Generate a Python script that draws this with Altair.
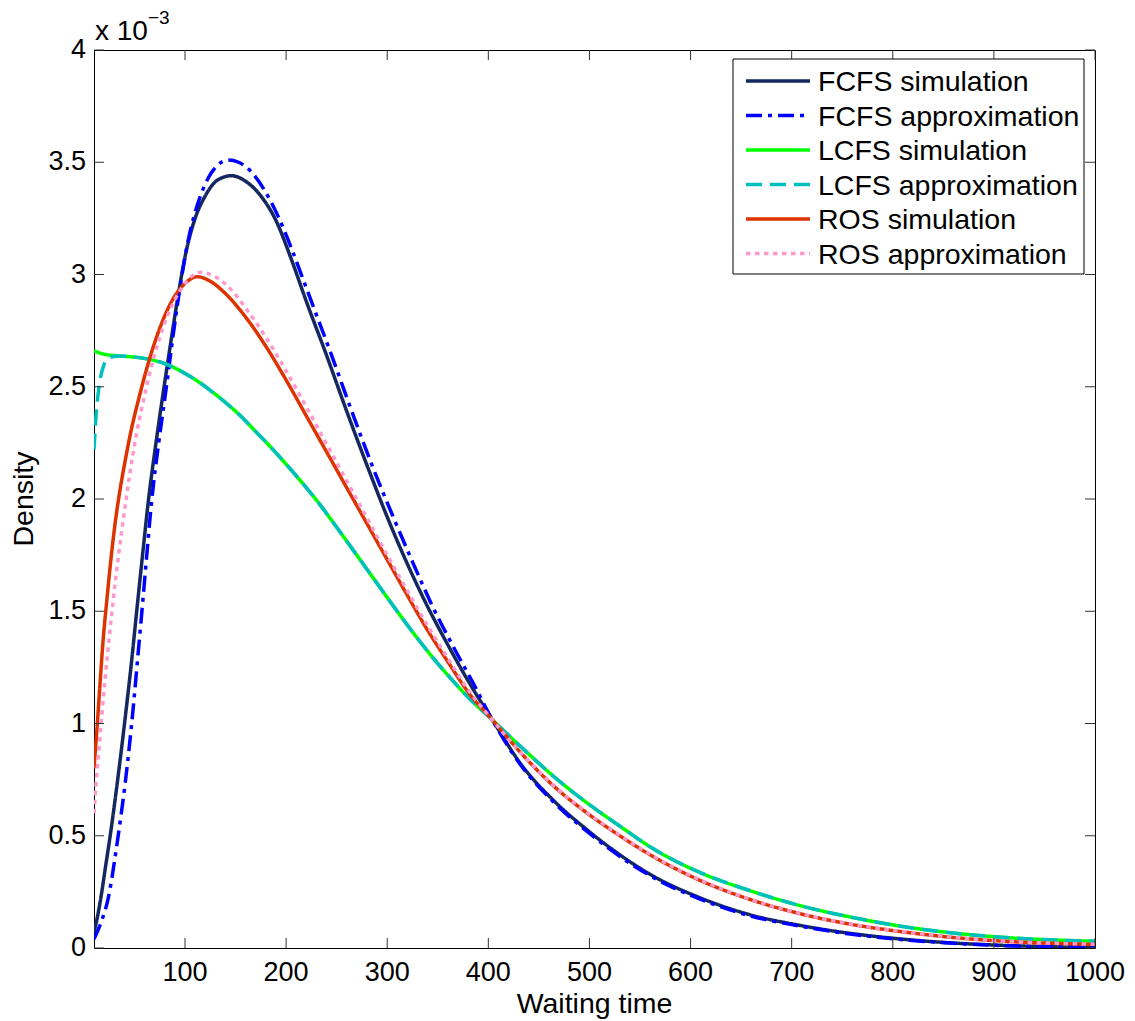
import altair as alt
import pandas as pd

# ---------------- data (density in units of 1e-3) ----------------
NAMES = ["FCFS simulation", "FCFS approximation", "LCFS simulation",
         "LCFS approximation", "ROS simulation", "ROS approximation"]

FCFS_SIM_X = [10, 13, 17, 21, 26, 32, 37, 42, 47, 52, 58, 64, 71, 78, 85, 93, 101, 110, 120, 132,
              146, 160, 175, 190, 205, 220, 240, 260, 280, 300, 320, 340, 360, 380, 404, 432,
              465, 498, 531, 564, 607, 659, 709, 758, 808, 857, 907, 1000]
FCFS_SIM_Y = [0.07, 0.13, 0.23, 0.35, 0.50, 0.70, 0.88, 1.07, 1.27, 1.49, 1.75, 2.00, 2.24, 2.46,
              2.67, 2.90, 3.10, 3.25, 3.35, 3.42, 3.44, 3.415, 3.35, 3.24, 3.07, 2.88, 2.64, 2.39,
              2.15, 1.92, 1.71, 1.52, 1.35, 1.19, 1.016, 0.82, 0.655, 0.525, 0.412, 0.318, 0.228,
              0.148, 0.100, 0.065, 0.040, 0.023, 0.012, 0.003]

FCFS_APX_X = [10, 14, 19, 24, 28, 32, 37, 41, 45, 49, 53, 57, 62, 67, 74, 81, 88, 96, 104, 113,
              123, 133, 143, 153, 165, 178, 192, 205, 215, 225, 245, 265, 285, 305, 325, 345,
              365, 385, 404, 432, 465, 498, 531, 564, 607, 659, 709, 758, 808, 857, 907, 1000]
FCFS_APX_Y = [0.04, 0.08, 0.14, 0.22, 0.32, 0.44, 0.60, 0.74, 0.90, 1.08, 1.28, 1.48, 1.74, 1.99,
              2.25, 2.48, 2.72, 2.97, 3.17, 3.32, 3.43, 3.49, 3.51, 3.50, 3.46, 3.38, 3.26, 3.12,
              3.00, 2.88, 2.64, 2.39, 2.15, 1.93, 1.72, 1.52, 1.345, 1.18, 1.016, 0.815, 0.648,
              0.518, 0.405, 0.312, 0.222, 0.143, 0.097, 0.062, 0.038, 0.022, 0.011, 0.003]

LCFS_SIM_X = [10, 20, 35, 50, 65, 80, 95, 110, 125, 140, 155, 170, 185, 200, 215, 230, 245, 260,
              275, 290, 305, 320, 335, 350, 365, 380, 404, 432, 465, 498, 531, 562, 610, 659,
              709, 758, 808, 857, 907, 1000]
LCFS_SIM_Y = [2.66, 2.645, 2.637, 2.632, 2.622, 2.603, 2.572, 2.532, 2.484, 2.43, 2.37, 2.30,
              2.23, 2.155, 2.077, 1.995, 1.905, 1.812, 1.718, 1.624, 1.530, 1.438, 1.35, 1.267,
              1.19, 1.117, 1.016, 0.897, 0.763, 0.645, 0.54, 0.445, 0.335, 0.255, 0.188, 0.138,
              0.097, 0.068, 0.048, 0.03]

LCFS_APX_X = [10, 12, 15, 20, 25, 35, 50, 65, 80, 95, 110, 125, 140, 155, 170, 185, 200, 215,
              230, 245, 260, 275, 290, 305, 320, 335, 350, 365, 380, 404, 432, 465, 498, 531,
              562, 610, 659, 709, 758, 808, 857, 907, 1000]
LCFS_APX_Y = [2.22, 2.37, 2.50, 2.60, 2.63, 2.637, 2.632, 2.622, 2.603, 2.572, 2.532, 2.484,
              2.43, 2.37, 2.30, 2.23, 2.155, 2.077, 1.995, 1.905, 1.812, 1.718, 1.624, 1.530,
              1.438, 1.35, 1.267, 1.19, 1.117, 1.016, 0.897, 0.763, 0.645, 0.54, 0.445, 0.335,
              0.255, 0.188, 0.138, 0.097, 0.068, 0.048, 0.03]

ROS_SIM_X = [10, 13, 16, 19, 22.5, 26, 30, 35, 40, 46, 55, 64, 75, 88, 100, 112, 125, 140, 160,
             180, 200, 220, 240, 260, 280, 300, 320, 340, 360, 380, 404, 432, 465, 498, 531, 562,
             610, 659, 709, 758, 808, 857, 907, 1000]
ROS_SIM_Y = [0.80, 0.98, 1.18, 1.37, 1.54, 1.70, 1.86, 2.02, 2.15, 2.29, 2.46, 2.61, 2.76, 2.89,
             2.96, 2.99, 2.97, 2.915, 2.81, 2.68, 2.53, 2.37, 2.21, 2.05, 1.89, 1.73, 1.57, 1.415,
             1.275, 1.14, 1.016, 0.87, 0.72, 0.60, 0.497, 0.41, 0.30, 0.216, 0.152, 0.106, 0.073,
             0.048, 0.031, 0.016]

ROS_APX_X = [10, 12, 15, 18, 21, 25, 29, 34, 39, 45, 52, 58, 64, 75, 88, 100, 115, 130, 145, 160,
             180, 200, 220, 240, 260, 280, 300, 320, 340, 360, 380, 404, 432, 465, 498, 531, 562,
             610, 659, 709, 758, 808, 857, 907, 1000]
ROS_APX_Y = [0.60, 0.73, 0.89, 1.05, 1.20, 1.38, 1.55, 1.74, 1.91, 2.10, 2.29, 2.42, 2.54, 2.72,
             2.87, 2.96, 3.01, 2.99, 2.935, 2.85, 2.72, 2.57, 2.41, 2.245, 2.08, 1.915, 1.75,
             1.59, 1.435, 1.29, 1.15, 1.016, 0.87, 0.722, 0.602, 0.499, 0.412, 0.302, 0.217,
             0.153, 0.107, 0.074, 0.049, 0.031, 0.017]

X_TICKS = [100, 200, 300, 400, 500, 600, 700, 800, 900, 1000]
Y_TICKS = [0, 0.5, 1, 1.5, 2, 2.5, 3, 3.5, 4]
X_TITLE = "Waiting time"
Y_TITLE = "Density"

# ---------------- styles ----------------
COLORS = ["#14285f", "#0000ff", "#00ff00", "#00bfbf", "#dd3300", "#ff99cc"]
DASHES = [[1, 0], [16, 6, 4, 6], [1, 0], [16, 8], [1, 0], [4.5, 4.5]]
FONT = "Liberation Sans"
W, H = 1001, 898

XS = [FCFS_SIM_X, FCFS_APX_X, LCFS_SIM_X, LCFS_APX_X, ROS_SIM_X, ROS_APX_X]
YS = [FCFS_SIM_Y, FCFS_APX_Y, LCFS_SIM_Y, LCFS_APX_Y, ROS_SIM_Y, ROS_APX_Y]

xscale = alt.Scale(domain=[10, 1000], nice=False, zero=False)
yscale = alt.Scale(domain=[0, 4], nice=False, zero=False)

layers = []

# curves
for i, name in enumerate(NAMES):
    d = pd.DataFrame({"time": XS[i], "density": YS[i], "series": name})
    layers.append(alt.Chart(d).mark_line(
        color=COLORS[i], strokeDash=DASHES[i], strokeWidth=3.5,
        interpolate="monotone", clip=True, strokeCap="butt").encode(
        x=alt.X("time:Q", scale=xscale, axis=None),
        y=alt.Y("density:Q", scale=yscale, axis=None)))

# inward tick marks on all four sides + tick labels, placed through the scales
xt = pd.DataFrame({"time": X_TICKS})
yt = pd.DataFrame({"density": Y_TICKS})
tick_style = dict(color="#333333", strokeWidth=1)
layers.append(alt.Chart(xt).mark_rule(**tick_style).encode(
    x=alt.X("time:Q", scale=xscale, axis=None), y=alt.value(H), y2=alt.value(H - 10)))
layers.append(alt.Chart(xt).mark_rule(**tick_style).encode(
    x=alt.X("time:Q", scale=xscale, axis=None), y=alt.value(0), y2=alt.value(10)))
layers.append(alt.Chart(yt).mark_rule(**tick_style).encode(
    y=alt.Y("density:Q", scale=yscale, axis=None), x=alt.value(0), x2=alt.value(10)))
layers.append(alt.Chart(yt).mark_rule(**tick_style).encode(
    y=alt.Y("density:Q", scale=yscale, axis=None), x=alt.value(W), x2=alt.value(W - 10)))

layers.append(alt.Chart(xt).mark_text(
    font=FONT, fontSize=27, align="center", baseline="alphabetic", color="black").encode(
    x=alt.X("time:Q", scale=xscale, axis=None), y=alt.value(H + 33),
    text=alt.Text("time:Q", format="d")))
layers.append(alt.Chart(yt).mark_text(
    font=FONT, fontSize=27, align="right", baseline="middle", color="black").encode(
    y=alt.Y("density:Q", scale=yscale, axis=None), x=alt.value(-8),
    text=alt.Text("density:Q", format="~g")))

one = pd.DataFrame({"a": [0]})
# axis titles
layers.append(alt.Chart(one).mark_text(
    text=X_TITLE, font=FONT, fontSize=28.5, align="center", baseline="alphabetic",
    color="black").encode(x=alt.value(W / 2), y=alt.value(H + 65)))
layers.append(alt.Chart(one).mark_text(
    text=Y_TITLE, font=FONT, fontSize=28.5, align="center", baseline="alphabetic",
    angle=270, color="black").encode(x=alt.value(-61), y=alt.value(H / 2)))

# legend box (MATLAB style)
LX0, LX1, LY0, LY1 = 639, 990, 9, 224
layers.append(alt.Chart(one).mark_rect(fill="white", stroke="black", strokeWidth=1).encode(
    x=alt.value(LX0), x2=alt.value(LX1), y=alt.value(LY0), y2=alt.value(LY1)))
for i, name in enumerate(NAMES):
    cy = 31 + 34.5 * i
    layers.append(alt.Chart(one).mark_rule(
        color=COLORS[i], strokeDash=DASHES[i], strokeWidth=3.5, strokeCap="butt").encode(
        x=alt.value(652), x2=alt.value(716), y=alt.value(cy)))
    layers.append(alt.Chart(one).mark_text(
        text=name, font=FONT, fontSize=28.5, align="left", baseline="alphabetic",
        color="black").encode(x=alt.value(724), y=alt.value(cy + 10)))

# exponent annotation "x 10^-3"
layers.append(alt.Chart(one).mark_text(
    text="x 10", font=FONT, fontSize=28, align="left", baseline="alphabetic",
    color="black").encode(x=alt.value(1), y=alt.value(-10)))
layers.append(alt.Chart(one).mark_text(
    text="\u22123", font=FONT, fontSize=19, align="left", baseline="alphabetic",
    color="black").encode(x=alt.value(54), y=alt.value(-26)))

chart = alt.layer(*layers).properties(
    width=W, height=H,
    padding={"left": 94, "top": 50, "right": 40, "bottom": 73},
    autosize=alt.AutoSizeParams(type="none"),
    background="white",
).configure_view(stroke="black", strokeWidth=1)

chart.save("out.html", embed_options={"renderer": "svg", "actions": False})
